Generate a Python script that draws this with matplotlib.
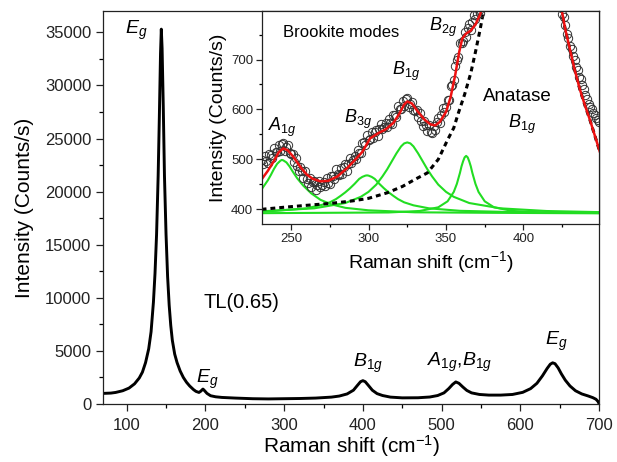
import numpy as np
import matplotlib
matplotlib.use("Agg")
import matplotlib.pyplot as plt
from matplotlib.ticker import MultipleLocator

plt.rcParams["font.family"] = ["Liberation Sans", "DejaVu Sans"]
plt.rcParams["mathtext.fontset"] = "custom"
plt.rcParams["mathtext.rm"] = "Liberation Sans"
plt.rcParams["mathtext.it"] = "Liberation Sans:italic"

# -----------------------------
# Main spectrum
# -----------------------------
raman_x = [70, 80, 86, 95, 103, 110, 116, 120, 124, 128, 131, 134, 136, 138, 140,
           141.5, 143, 144, 145, 146.5, 148, 150, 152, 154, 156, 158, 161, 164, 168,
           172, 176, 180, 185, 188, 191.8, 194, 196.9, 199, 202, 206.6, 213, 221,
           238, 260, 280, 300, 320, 340, 360, 370, 380, 388, 393, 397, 400, 403,
           407, 412, 418, 425, 435, 450, 470, 485, 495, 503, 509, 514, 518, 522,
           527, 532, 538, 548, 560, 575, 590, 603, 613, 621, 628, 634, 638, 641,
           644, 648, 652, 657, 663, 670, 678, 686, 692, 696, 698.5, 700]
raman_y = [1000, 1030, 1090, 1250, 1500, 1900, 2450, 3000, 3900, 5200, 6800, 9600,
           12300, 16000, 21500, 27000, 33000, 35300, 33500, 28000, 21500, 16000,
           12000, 9300, 7400, 6000, 4700, 3900, 3100, 2500, 2050, 1700, 1350, 1190,
           1090, 1200, 1410, 1250, 1000, 780, 680, 620, 560, 500, 480, 500, 520,
           560, 650, 750, 950, 1300, 1750, 2100, 2200, 2100, 1750, 1300, 980, 800,
           650, 580, 590, 660, 800, 1050, 1450, 1850, 2080, 1950, 1600, 1280, 1050,
           900, 840, 840, 900, 1100, 1450, 1950, 2650, 3350, 3750, 3880, 3800, 3400,
           2850, 2250, 1700, 1250, 950, 760, 600, 450, 250, 30]

# -----------------------------
# Inset: measured points (circles)
# -----------------------------
exp_x_left = list(range(231, 374))
exp_y_left = [499, 491, 506, 497, 493, 510, 509, 503, 523, 514, 514, 529, 517, 530,
              533, 516, 524, 529, 512, 511, 510, 494, 503, 487, 476, 485, 477, 463,
              476, 460, 453, 462, 445, 455, 456, 438, 448, 456, 444, 448, 454, 446,
              462, 453, 450, 467, 467, 461, 480, 470, 469, 483, 470, 484, 490, 477,
              491, 503, 493, 499, 507, 501, 519, 513, 513, 533, 534, 528, 548, 539,
              540, 555, 542, 554, 559, 546, 560, 571, 560, 565, 572, 564, 580, 572,
              570, 588, 589, 585, 607, 600, 601, 617, 607, 621, 623, 604, 611, 615,
              598, 597, 598, 584, 593, 577, 567, 577, 569, 556, 569, 554, 552, 567,
              558, 575, 583, 572, 589, 602, 595, 604, 618, 619, 646, 649, 658, 687,
              699, 705, 734, 733, 737, 755, 746, 763, 771, 760, 776, 789, 782, 791,
              800, 794, 813]
exp_x_right = list(range(424, 450))
exp_y_right = [805, 792, 786, 770, 752, 744, 728, 722, 708, 700, 686, 679, 664, 661,
               648, 640, 629, 620, 611, 605, 600, 592, 588, 583, 579, 575]

# cumulative fit (red)
fit_x = [231, 235, 239, 242, 245, 248, 252, 256, 260, 264, 269, 274, 280, 286, 291,
         296, 301, 306, 311, 316, 320, 323, 325, 328, 332, 336, 340, 343, 346, 350,
         353, 356, 358.5, 360.5, 363, 366, 369, 372, 374, 399, 424, 427, 430, 433,
         436.4, 440, 443, 446, 449.2]
fit_y = [460, 477, 497, 514, 522, 518, 503, 485, 470, 461, 456, 457, 466, 482, 498,
         515, 542, 552, 560, 573, 592, 610, 616, 612, 595, 580, 570, 568, 575, 595,
         625, 670, 715, 742, 752, 758, 770, 790, 815, 3000, 810, 760, 720, 680, 640,
         605, 578, 548, 516]

# anatase B1g tail (dashed)
anatase_x = [231, 245, 260, 276, 290, 300, 312, 322, 330, 338, 345, 351, 355, 358,
             362, 366, 369, 372, 375, 399, 424, 427, 430, 433, 436.4, 440, 442.8,
             446, 449.2]
anatase_y = [400, 404, 408, 412, 417, 422, 433, 446, 460, 473, 500, 539, 563, 593,
             630, 673, 715, 760, 810, 3000, 805, 760, 720, 680, 640, 605, 580, 548, 516]

# brookite components (green)
a1g_x = [231, 233, 235, 237, 239, 241, 243, 244, 245, 247, 249, 251, 254, 258, 263,
         269, 276, 285, 300, 330, 380, 449]
a1g_y = [440, 449, 458, 469, 481, 491, 497, 499, 498, 494, 486, 476, 462, 447, 432,
         419, 410, 403, 398, 394, 393, 392]
b3g_x = [231, 240, 250, 260, 270, 275, 279, 282, 285, 288, 291, 294, 296, 298, 299,
         300, 302, 304, 307, 310, 313, 316, 319, 323, 329, 339, 359, 399, 449]
b3g_y = [395.7, 397, 399.5, 402, 409, 414, 420.5, 427, 434, 442, 451, 461, 465, 467.5,
         468, 467.5, 465, 461, 451, 442, 434, 427, 420.5, 414, 408, 402, 397, 394, 393]
b1g_x = [231, 265, 285, 295, 300, 305, 309, 312, 315, 318, 321, 323, 325, 327, 329,
         332, 335, 338, 341, 345, 350, 355, 365, 385, 415, 449]
b1g_y = [396, 402, 412.6, 425, 435, 449.5, 466, 480, 496, 512, 526, 532, 534, 532,
         526, 512, 496, 480, 466, 449.5, 435, 425, 412.6, 402, 396.6, 394.4]
b2g_x = [231, 313, 333, 345, 351, 355, 357, 359, 360, 361, 362, 363, 364, 365, 366,
         367, 369, 371, 375, 381, 393, 413, 449]
b2g_y = [392.3, 393.7, 396.7, 404, 416, 434.8, 451, 473, 486, 496, 504, 507, 504, 496,
         486, 473, 451, 434.8, 416, 404, 396.7, 393.7, 392.6]

# -----------------------------
# Figure
# -----------------------------
fig = plt.figure(figsize=(6.17, 4.62), dpi=100)
ax = fig.add_axes([0.167, 0.1255, 0.804, 0.8505])

ax.plot(raman_x, raman_y, color="black", linewidth=2.1)
ax.set_xlim(70, 700)
ax.set_ylim(0, 37000)
ax.xaxis.set_major_locator(MultipleLocator(100))
ax.xaxis.set_minor_locator(MultipleLocator(50))
ax.yaxis.set_major_locator(MultipleLocator(5000))
ax.yaxis.set_minor_locator(MultipleLocator(2500))
ax.tick_params(which="major", direction="out", length=5, width=0.9, labelsize=12,
               colors="#222222")
ax.tick_params(axis="x", which="major", pad=5)
ax.tick_params(which="minor", direction="out", length=3, width=0.9)
for s in ax.spines.values():
    s.set_linewidth(0.9)
    s.set_color("#222222")
ax.set_xlabel("Raman shift (cm$^{-1}$)", fontsize=15, labelpad=0)
ax.set_ylabel("Intensity (Counts/s)", fontsize=15, labelpad=8)

lab = dict(fontsize=14, color="black")
ax.text(97.5, 34830, r"$E_g$", **lab)
ax.text(187.6, 2000, r"$E_g$", **lab)
ax.text(388, 3520, r"$B_{1g}$", **lab)
ax.text(481.5, 3540, r"$A_{1g}$,$B_{1g}$", **lab)
ax.text(631.7, 5580, r"$E_g$", **lab)
ax.text(198, 9060, "TL(0.65)", fontsize=14.5)

# -----------------------------
# Inset
# -----------------------------
ins = fig.add_axes([0.424, 0.5145, 0.5475, 0.4615])
ins.set_facecolor("white")
green = "#22dd22"
ins.plot(a1g_x, a1g_y, color=green, linewidth=1.5)
ins.plot(b3g_x, b3g_y, color=green, linewidth=1.5)
ins.plot(b1g_x, b1g_y, color=green, linewidth=1.5)
ins.plot(b2g_x, b2g_y, color=green, linewidth=1.5)
ins.plot(anatase_x, anatase_y, color="black", linewidth=2.2, linestyle=(0, (1.6, 1.3)))
ins.plot(exp_x_left, exp_y_left, linestyle="none", marker="o", markersize=6,
         markerfacecolor="none", markeredgecolor="#333333", markeredgewidth=0.7)
ins.plot(exp_x_right, exp_y_right, linestyle="none", marker="o", markersize=6,
         markerfacecolor="none", markeredgecolor="#333333", markeredgewidth=0.7)
ins.plot(fit_x, fit_y, color="#ee1111", linewidth=1.8)

ins.set_xlim(231, 449)
ins.set_ylim(370, 797)
ins.xaxis.set_major_locator(MultipleLocator(50))
ins.xaxis.set_minor_locator(MultipleLocator(25))
ins.yaxis.set_major_locator(MultipleLocator(100))
ins.yaxis.set_minor_locator(MultipleLocator(50))
ins.tick_params(which="major", direction="out", length=4, width=0.9, labelsize=9.5,
                pad=2, colors="#222222")
ins.tick_params(which="minor", direction="out", length=2.5, width=0.9)
for s in ins.spines.values():
    s.set_linewidth(0.9)
    s.set_color("#222222")
ins.set_xlabel("Raman shift (cm$^{-1}$)", fontsize=14, labelpad=3)
ins.set_ylabel("Intensity (Counts/s)", fontsize=14, labelpad=3)

ilab = dict(fontsize=13, color="black")
ins.text(244.6, 745, "Brookite modes", fontsize=12)
ins.text(235, 556, r"$A_{1g}$", **ilab)
ins.text(284.3, 572.8, r"$B_{3g}$", **ilab)
ins.text(315.4, 670, r"$B_{1g}$", **ilab)
ins.text(338.9, 757, r"$B_{2g}$", **ilab)
ins.text(373.8, 616, "Anatase", fontsize=13.5)
ins.text(390.3, 562.7, r"$B_{1g}$", **ilab)

fig.savefig("out.png", dpi=100)
